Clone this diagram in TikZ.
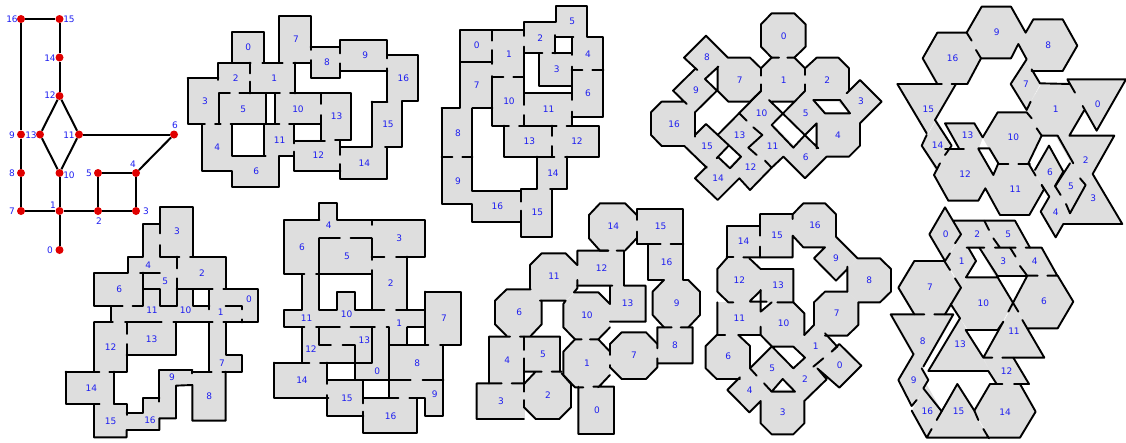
\documentclass[tikz,border=0pt]{standalone}
\usepackage{fontspec}
\setmainfont{DejaVu Sans}
\definecolor{roomgray}{RGB}{222,222,222}
\definecolor{nodered}{RGB}{224,0,0}
\definecolor{labelblue}{RGB}{30,30,240}
\begin{document}
\begin{tikzpicture}[
    x=1pt, y=-1pt,
    vertex/.style={circle, fill=nodered, inner sep=0pt, minimum size=8pt},
    link/.style={line width=2pt},
    lab/.style={inner sep=0pt, text=labelblue, font=\fontsize{9}{10}\selectfont},
    room/.style={fill=roomgray, draw=roomgray, line width=.4pt},
    wall/.style={line width=1.9pt, line cap=round, line join=round},
    plan/.style 2 args={shift={(#1,#2)}, x=.3333pt, y=-.3333pt}
]
\useasboundingbox (0,0) rectangle (1126,442);

% graph
\node[vertex] (n16) at (21,19) {};
\node[vertex] (n15) at (59.5,19) {};
\node[vertex] (n14) at (59.5,57.5) {};
\node[vertex] (n12) at (59.5,96) {};
\node[vertex] (n9) at (21,134.5) {};
\node[vertex] (n13) at (40,134.5) {};
\node[vertex] (n11) at (79,134.5) {};
\node[vertex] (n6) at (174,134.5) {};
\node[vertex] (n8) at (21,173) {};
\node[vertex] (n10) at (59.5,173) {};
\node[vertex] (n5) at (98,173) {};
\node[vertex] (n4) at (136,173) {};
\node[vertex] (n7) at (21,211) {};
\node[vertex] (n1) at (59.5,211) {};
\node[vertex] (n2) at (98,211) {};
\node[vertex] (n3) at (136,211) {};
\node[vertex] (n0) at (59.5,250) {};
\draw[link] (n16) -- (n15);
\draw[link] (n15) -- (n14);
\draw[link] (n14) -- (n12);
\draw[link] (n12) -- (n13);
\draw[link] (n12) -- (n11);
\draw[link] (n13) -- (n10);
\draw[link] (n11) -- (n10);
\draw[link] (n11) -- (n6);
\draw[link] (n6) -- (n4);
\draw[link] (n4) -- (n5);
\draw[link] (n4) -- (n3);
\draw[link] (n5) -- (n2);
\draw[link] (n10) -- (n1);
\draw[link] (n16) -- (n9);
\draw[link] (n9) -- (n8);
\draw[link] (n8) -- (n7);
\draw[link] (n7) -- (n1);
\draw[link] (n1) -- (n2);
\draw[link] (n2) -- (n3);
\draw[link] (n1) -- (n0);
\node[lab] (t16) at (12,19.5) {16};
\node[lab] (t15) at (69,19.5) {15};
\node[lab] (t14) at (50,58) {14};
\node[lab] (t12) at (50,95) {12};
\node[lab] (t9) at (12,135) {9};
\node[lab] (t13) at (31,135) {13};
\node[lab] (t11) at (69,135) {11};
\node[lab] (t6) at (175,125) {6};
\node[lab] (t8) at (12,173) {8};
\node[lab] (t10) at (69,175) {10};
\node[lab] (t5) at (89,173) {5};
\node[lab] (t4) at (133,164) {4};
\node[lab] (t7) at (12,211) {7};
\node[lab] (t1) at (53,205) {1};
\node[lab] (t2) at (99,221) {2};
\node[lab] (t3) at (146,211) {3};
\node[lab] (t0) at (50,250) {0};

% top row, rectangles
\begin{scope}[plan={185}{10}]
\fill[room] (142,65) rectangle (237,158) (193,158) rectangle (330,250) (283,18) rectangle (377,158)
  (377,112) rectangle (466,205) (466,90) rectangle (607,182) (607,135) rectangle (700,273)
  (560,275) rectangle (650,412) (466,412) rectangle (607,507) (327,390) rectangle (466,482)
  (237,342) rectangle (327,437) (142,437) rectangle (283,530) (50,342) rectangle (142,482)
  (8,205) rectangle (100,342) (100,158) rectangle (193,250) (100,250) rectangle (242,342)
  (270,250) rectangle (408,342) (408,250) rectangle (498,390) (600,273) rectangle (650,275);
\draw[wall] (142,158) -- (142,65) -- (237,65) -- (237,158);
\draw[wall] (100,210) -- (100,158) -- (197,158) (232,158) -- (293,158) (325,158) -- (377,158);
\draw[wall] (283,158) -- (283,18) -- (377,18) -- (377,120) (377,150) -- (377,205) -- (466,205) -- (466,160);
\draw[wall] (377,112) -- (466,112) -- (466,130) (466,112) -- (466,90) -- (607,90) -- (607,145);
\draw[wall] (466,182) -- (607,182) (607,175) -- (607,275) (560,275) -- (607,275);
\draw[wall] (607,135) -- (700,135) -- (700,273) -- (650,273) -- (650,412) -- (600,412);
\draw[wall] (560,275) -- (560,412) -- (466,412) (466,390) -- (466,435);
\draw[wall] (330,158) -- (330,250) (195,158) -- (195,190) (195,215) -- (195,250);
\draw[wall] (8,205) -- (100,205) (8,205) -- (8,342) -- (60,342) (90,342) -- (107,342) (137,342) -- (237,342);
\draw[wall] (103,342) -- (103,250) -- (135,250) (163,250) -- (285,250) (315,250) -- (498,250) -- (498,390) -- (450,390);
\draw[wall] (242,250) -- (242,342) (270,250) -- (270,342) (283,342) -- (237,342);
\draw[wall] (142,342) -- (142,437) -- (237,437) (237,342) -- (237,437) -- (242,437);
\draw[wall] (50,342) -- (50,482) -- (142,482) -- (142,530) -- (283,530) -- (283,437) -- (327,437);
\draw[wall] (327,342) -- (327,400) (327,425) -- (327,482) -- (466,482) (466,462) -- (466,507) -- (607,507) -- (607,412);
\draw[wall] (312,342) -- (408,342) (408,250) -- (408,282) (408,315) -- (408,390) (327,392) -- (420,392);
\node[lab] (pa0) at (190,113) {0};
\node[lab] (pa1) at (268,205) {1};
\node[lab] (pa2) at (152,205) {2};
\node[lab] (pa3) at (60,274) {3};
\node[lab] (pa4) at (97,413) {4};
\node[lab] (pa5) at (175,298) {5};
\node[lab] (pa6) at (214,483) {6};
\node[lab] (pa7) at (333,88) {7};
\node[lab] (pa8) at (426,158) {8};
\node[lab] (pa9) at (541,135) {9};
\node[lab] (pa10) at (339,298) {10};
\node[lab] (pa11) at (284,391) {11};
\node[lab] (pa12) at (400,437) {12};
\node[lab] (pa13) at (455,320) {13};
\node[lab] (pa14) at (538,461) {14};
\node[lab] (pa15) at (609,344) {15};
\node[lab] (pa16) at (655,205) {16};
\end{scope}

\begin{scope}[plan={435}{0}]
\fill[room] (76,90) rectangle (172,185) (172,90) rectangle (267,232) (267,65) rectangle (362,160)
  (362,18) rectangle (457,112) (410,112) rectangle (505,210) (313,160) rectangle (410,257)
  (410,210) rectangle (505,352) (267,280) rectangle (410,377) (172,232) rectangle (267,377)
  (76,185) rectangle (172,325) (20,325) rectangle (112,470) (20,470) rectangle (112,612)
  (112,572) rectangle (257,665) (257,568) rectangle (350,710) (305,470) rectangle (397,568)
  (350,377) rectangle (493,470) (208,377) rectangle (352,470);
\draw[wall] (76,185) -- (76,90) -- (265,90) (172,90) -- (172,122) (172,150) -- (172,192) (76,185) -- (172,185);
\draw[wall] (267,108) -- (267,65) -- (362,65) -- (362,18) -- (457,18) -- (457,112) -- (505,112) -- (505,352) -- (410,352);
\draw[wall] (267,140) -- (267,315) (267,345) -- (267,377) (267,160) -- (322,160);
\draw[wall] (362,112) -- (415,112) (360,105) -- (360,160) (352,160) -- (410,160) (410,112) -- (410,165);
\draw[wall] (410,200) -- (410,300) (410,335) -- (410,377) (410,210) -- (442,210) (472,210) -- (505,210);
\draw[wall] (313,160) -- (313,257) -- (410,257) (267,280) -- (410,280);
\draw[wall] (172,228) -- (172,377) (172,232) -- (205,232) (235,232) -- (267,232);
\draw[wall] (172,377) -- (222,377) (252,377) -- (365,377) (395,377) -- (493,377) -- (493,470) -- (390,470);
\draw[wall] (397,470) -- (397,568) -- (345,568) (350,568) -- (350,710) -- (257,710) -- (257,632);
\draw[wall] (257,605) -- (257,568) -- (305,568) -- (305,470) (208,377) -- (208,470) -- (358,470);
\draw[wall] (352,377) -- (352,408) (352,438) -- (352,470);
\draw[wall] (76,185) -- (76,325) -- (20,325) (112,325) -- (172,325) (112,325) -- (112,572) -- (257,572);
\draw[wall] (20,325) -- (20,612) -- (112,612) -- (112,665) -- (257,665);
\draw[wall] (20,470) -- (52,470) (82,470) -- (112,470);
\node[lab] (pb0) at (125,135) {0};
\node[lab] (pb1) at (222,162) {1};
\node[lab] (pb2) at (316,113) {2};
\node[lab] (pb3) at (365,208) {3};
\node[lab] (pb4) at (459,162) {4};
\node[lab] (pb5) at (412,65) {5};
\node[lab] (pb6) at (459,280) {6};
\node[lab] (pb7) at (125,256) {7};
\node[lab] (pb8) at (69,400) {8};
\node[lab] (pb9) at (69,543) {9};
\node[lab] (pb10) at (222,304) {10};
\node[lab] (pb11) at (341,327) {11};
\node[lab] (pb12) at (426,424) {12};
\node[lab] (pb13) at (283,424) {13};
\node[lab] (pb14) at (354,520) {14};
\node[lab] (pb15) at (307,638) {15};
\node[lab] (pb16) at (187,620) {16};
\end{scope}

% top row, octagons
\begin{scope}[plan={645}{5}]
\fill[room] (380,25) -- (448,25) -- (482,58) -- (482,125) -- (448,158) -- (380,158) -- (348,125) -- (348,58) -- cycle;
\fill[room] (380,158) -- (448,158) -- (480,190) -- (480,258) -- (448,290) -- (380,290) -- (348,258) -- (348,190) -- cycle;
\fill[room] (515,158) -- (580,158) -- (612,190) -- (612,258) -- (580,290) -- (515,290) -- (480,258) -- (480,190) -- cycle;
\fill[room] (250,158) -- (315,158) -- (348,190) -- (348,258) -- (315,290) -- (250,290) -- (218,258) -- (218,190) -- cycle;
\fill[room] (50,290) -- (118,290) -- (150,322) -- (150,390) -- (118,423) -- (50,423) -- (18,390) -- (18,322) -- cycle;
\fill[room] (545,322) -- (612,322) -- (645,355) -- (645,422) -- (612,455) -- (545,455) -- (512,422) -- (512,355) -- cycle;
\fill[room] (183,92) -- (249,158) -- (183,225) -- (117,158) -- cycle;
\fill[room] (150,192) -- (216,257) -- (150,322) -- (84,257) -- cycle;
\fill[room] (645,225) -- (710,290) -- (645,355) -- (580,290) -- cycle;
\fill[room] (350,258) -- (415,325) -- (350,390) -- (283,325) -- cycle;
\fill[room] (480,258) -- (545,325) -- (480,390) -- (415,325) -- cycle;
\fill[room] (283,325) -- (350,390) -- (283,455) -- (218,390) -- cycle;
\fill[room] (383,358) -- (448,423) -- (383,488) -- (316,423) -- cycle;
\fill[room] (183,357) -- (250,423) -- (183,488) -- (117,423) -- cycle;
\fill[room] (315,423) -- (380,488) -- (315,555) -- (250,488) -- cycle;
\fill[room] (218,455) -- (283,520) -- (218,585) -- (150,520) -- cycle;
\fill[room] (480,390) -- (545,455) -- (480,520) -- (415,455) -- cycle;
\draw[wall] (380,158) -- (348,125) -- (348,58) -- (380,25) -- (448,25) -- (482,58) -- (482,125) -- (448,158);
\draw[wall] (380,158) -- (402,158) (427,158) -- (448,158) -- (480,190) -- (480,210) (480,238) -- (480,258);
\draw[wall] (380,158) -- (348,190) -- (348,212) (348,238) -- (348,258);
\draw[wall] (480,190) -- (515,158) -- (580,158) -- (612,190) -- (612,258) -- (605,265) -- (645,225) -- (710,290) -- (645,355);
\draw[wall] (645,355) -- (645,422) -- (612,455) -- (545,455) -- (480,520) -- (415,455) -- (380,488) -- (315,555) -- (283,520) -- (218,585) -- (150,520) -- (185,485);
\draw[wall] (360,467) -- (380,488) (118,423) -- (185,488);
\draw[wall] (118,423) -- (50,423) -- (18,390) -- (18,322) -- (50,290) -- (118,290) -- (125,297) -- (84,257) -- (150,192) (157,195) -- (117,158) -- (183,92) -- (249,158) -- (315,158) -- (348,190);
\draw[wall] (220,185) -- (180,222) -- (216,257) -- (150,322) -- (150,395) (218,185) -- (218,258) -- (250,290) -- (315,290) -- (348,258);
\draw[wall] (348,258) -- (218,390) (150,390) -- (183,357) -- (288,455) -- (255,490) -- (218,455) (215,460) -- (250,423);
\draw[wall] (283,325) -- (305,347) (325,367) -- (352,390) -- (310,428) -- (335,450);
\draw[wall] (380,290) -- (448,290) (372,285) -- (520,430) (480,258) -- (380,360) -- (445,428) -- (480,390) -- (515,355) -- (515,430);
\draw[wall] (505,285) -- (585,285) -- (615,325) -- (540,325) -- (505,285);
\node[lab] (pc0) at (416,93) {0};
\node[lab] (pc1) at (416,225) {1};
\node[lab] (pc2) at (547,225) {2};
\node[lab] (pc3) at (648,290) {3};
\node[lab] (pc4) at (579,391) {4};
\node[lab] (pc5) at (482,325) {5};
\node[lab] (pc6) at (482,456) {6};
\node[lab] (pc7) at (284,225) {7};
\node[lab] (pc8) at (186,158) {8};
\node[lab] (pc9) at (153,257) {9};
\node[lab] (pc10) at (350,325) {10};
\node[lab] (pc11) at (383,423) {11};
\node[lab] (pc12) at (317,488) {12};
\node[lab] (pc13) at (284,390) {13};
\node[lab] (pc14) at (219,521) {14};
\node[lab] (pc15) at (186,423) {15};
\node[lab] (pc16) at (87,357) {16};
\end{scope}

% top row, hexagons and triangles
\begin{scope}[plan={890}{0}]
\fill[room] (275,20) -- (363,20) -- (407,98) -- (363,175) -- (275,175) -- (230,98) -- cycle;
\fill[room] (430,58) -- (518,58) -- (562,137) -- (518,213) -- (430,213) -- (385,137) -- cycle;
\fill[room] (142,98) -- (230,98) -- (273,175) -- (230,252) -- (142,252) -- (98,175) -- cycle;
\fill[room] (455,252) -- (540,252) -- (585,330) -- (540,407) -- (455,407) -- (408,330) -- cycle;
\fill[room] (323,337) -- (410,337) -- (455,407) -- (410,490) -- (323,490) -- (278,412) -- cycle;
\fill[room] (175,447) -- (265,447) -- (310,525) -- (265,602) -- (175,602) -- (132,525) -- cycle;
\fill[room] (330,490) -- (418,490) -- (462,568) -- (418,645) -- (330,645) -- (286,568) -- cycle;
\fill[room] (532,238) -- (708,238) -- (620,392) -- cycle;
\fill[room] (497,407) -- (673,407) -- (585,560) -- cycle;
\fill[room] (610,522) -- (697,672) -- (520,672) -- cycle;
\fill[room] (22,252) -- (198,252) -- (110,405) -- cycle;
\fill[room] (165,370) -- (253,370) -- (278,412) -- (265,447) -- (208,447) -- cycle;
\fill[room] (140,360) -- (185,437) -- (140,515) -- (95,437) -- cycle;
\fill[room] (407,178) -- (450,252) -- (408,330) -- (362,252) -- cycle;
\fill[room] (477,437) -- (522,515) -- (477,592) -- (435,515) -- cycle;
\fill[room] (543,480) -- (587,558) -- (543,636) -- (497,558) -- cycle;
\fill[room] (497,558) -- (540,636) -- (497,712) -- (452,636) -- cycle;
\draw[wall] (245,122) -- (230,98) -- (275,20) -- (363,20) -- (407,98) -- (430,58) -- (518,58) -- (562,137) -- (518,213) -- (425,213) (425,208) -- (450,250) -- (540,252);
\draw[wall] (555,278) -- (532,238) -- (708,238) -- (620,392) -- (578,318) (582,332) -- (538,407) -- (673,407) -- (608,522) -- (697,672) -- (520,672) -- (497,712) -- (452,635) -- (478,590) -- (455,555);
\draw[wall] (230,98) -- (142,98) -- (98,175) -- (142,252) -- (155,252) (185,252) -- (232,252) -- (273,175) -- (258,150);
\draw[wall] (273,175) -- (363,175) -- (385,132) -- (410,178) -- (362,252) -- (410,330) -- (422,305);
\draw[wall] (278,412) -- (323,337) -- (410,337) -- (425,355) (440,385) -- (455,407) -- (503,407) -- (550,490);
\draw[wall] (455,407) -- (415,490) -- (437,527) (435,510) -- (477,437) -- (520,515) -- (495,558) -- (512,585) (540,490) -- (495,560);
\draw[wall] (570,535) -- (587,555) -- (540,640) -- (528,612);
\draw[wall] (22,252) -- (155,252) (22,252) -- (110,400) (198,252) -- (135,360) -- (185,437) -- (165,465);
\draw[wall] (110,405) -- (95,437) -- (140,505) (150,490) -- (132,525) -- (175,602) -- (265,602) -- (286,565) -- (330,645) -- (418,645) -- (462,568) -- (455,555);
\draw[wall] (278,412) -- (253,370) -- (165,370) -- (208,447) (165,447) -- (222,447) (265,445) -- (298,445) -- (325,490) -- (310,525) -- (265,447);
\draw[wall] (328,492) -- (355,492) (385,492) -- (420,492);
\node[lab] (pd0) at (623,313) {0};
\node[lab] (pd1) at (497,328) {1};
\node[lab] (pd2) at (587,482) {2};
\node[lab] (pd3) at (610,595) {3};
\node[lab] (pd4) at (497,636) {4};
\node[lab] (pd5) at (543,558) {5};
\node[lab] (pd6) at (480,517) {6};
\node[lab] (pd7) at (408,252) {7};
\node[lab] (pd8) at (475,137) {8};
\node[lab] (pd9) at (320,97) {9};
\node[lab] (pd10) at (370,412) {10};
\node[lab] (pd11) at (376,568) {11};
\node[lab] (pd12) at (225,524) {12};
\node[lab] (pd13) at (233,407) {13};
\node[lab] (pd14) at (143,435) {14};
\node[lab] (pd15) at (115,328) {15};
\node[lab] (pd16) at (188,175) {16};
\end{scope}

% bottom row, rectangles
\begin{scope}[plan={60}{200}]
\fill[room] (300,20) rectangle (398,170) (250,72) rectangle (300,170) (203,170) rectangle (350,218)
  (350,170) rectangle (497,268) (250,218) rectangle (350,318) (102,218) rectangle (250,318)
  (497,268) rectangle (595,367) (448,268) rectangle (497,367) (350,268) rectangle (400,318)
  (350,318) rectangle (497,367) (152,318) rectangle (350,367) (102,367) rectangle (200,515)
  (200,367) rectangle (348,465) (448,367) rectangle (497,515) (497,465) rectangle (545,515)
  (397,515) rectangle (497,662) (298,512) rectangle (397,557) (298,555) rectangle (348,655)
  (250,595) rectangle (298,690) (200,640) rectangle (250,690) (102,612) rectangle (200,712)
  (17,515) rectangle (162,612);
\draw[wall] (300,100) -- (300,20) -- (398,20) -- (398,170) -- (390,170) -- (497,170) -- (497,265);
\draw[wall] (300,135) -- (300,170) -- (358,170) (350,170) -- (350,205) (350,235) -- (350,318);
\draw[wall] (300,72) -- (250,72) -- (250,170) -- (203,170) -- (203,218) -- (102,218) -- (102,318) -- (188,318) (240,218) -- (300,218) (248,218) -- (248,318) -- (218,318);
\draw[wall] (152,318) -- (152,367) -- (158,367) (195,367) -- (305,367) (340,367) -- (458,367);
\draw[wall] (250,268) -- (300,268) -- (300,318) -- (350,318) (350,268) -- (458,268) (400,268) -- (400,318) -- (448,318) (448,268) -- (448,328);
\draw[wall] (490,268) -- (595,268) -- (595,367) -- (490,367) (497,318) -- (545,318) -- (545,328) (545,358) -- (545,367);
\draw[wall] (497,367) -- (497,465) -- (545,465) -- (545,515) -- (487,515) (448,367) -- (448,515) (397,515) -- (455,515);
\draw[wall] (497,515) -- (497,662) -- (397,662) -- (397,555) -- (348,557) -- (348,655) -- (298,655) -- (298,690) -- (200,690) -- (200,712) -- (102,712) -- (102,612) -- (118,612);
\draw[wall] (397,510) -- (397,520) (298,605) -- (298,510) -- (397,510) (298,595) -- (250,595) -- (250,640) -- (200,640) (200,612) -- (200,645) (162,612) -- (200,612);
\draw[wall] (102,367) -- (158,367) (102,367) -- (102,515) (17,515) -- (118,515) (148,515) -- (200,515) -- (200,432) (200,402) -- (200,367) (200,465) -- (348,465) -- (348,367);
\draw[wall] (162,515) -- (162,612) (17,515) -- (17,612) -- (118,612);
\node[lab] (pe0) at (567,298) {0};
\node[lab] (pe1) at (482,338) {1};
\node[lab] (pe2) at (426,219) {2};
\node[lab] (pe3) at (351,95) {3};
\node[lab] (pe4) at (265,195) {4};
\node[lab] (pe5) at (316,245) {5};
\node[lab] (pe6) at (178,268) {6};
\node[lab] (pe7) at (486,491) {7};
\node[lab] (pe8) at (448,590) {8};
\node[lab] (pe9) at (336,533) {9};
\node[lab] (pe10) at (377,331) {10};
\node[lab] (pe11) at (276,331) {11};
\node[lab] (pe12) at (152,442) {12};
\node[lab] (pe13) at (275,418) {13};
\node[lab] (pe14) at (94,566) {14};
\node[lab] (pe15) at (152,664) {15};
\node[lab] (pe16) at (270,662) {16};
\end{scope}

\begin{scope}[plan={270}{195}]
\fill[room] (148,25) rectangle (200,75) (42,75) rectangle (148,237) (148,75) rectangle (305,237)
  (305,75) rectangle (465,185) (305,185) rectangle (412,345) (95,237) rectangle (148,345)
  (42,345) rectangle (465,397) (200,290) rectangle (255,345) (465,290) rectangle (572,450)
  (358,397) rectangle (412,450) (95,397) rectangle (255,503) (148,397) rectangle (305,503)
  (305,397) rectangle (358,555) (255,503) rectangle (358,555) (358,450) rectangle (520,555)
  (465,555) rectangle (520,662) (358,555) rectangle (465,610) (280,610) rectangle (440,715)
  (172,555) rectangle (280,662) (13,503) rectangle (172,610);
\draw[wall] (148,75) -- (148,25) -- (200,25) -- (200,75) -- (465,75) -- (465,185) -- (378,185) (42,75) -- (148,75);
\draw[wall] (42,75) -- (42,237) -- (103,237) (138,237) -- (305,237) (95,237) -- (95,345) -- (42,345) -- (42,397) -- (103,397);
\draw[wall] (148,130) -- (148,345) -- (200,345) -- (200,290) -- (255,290) -- (255,345) -- (343,345) (378,345) -- (465,345);
\draw[wall] (148,130) -- (210,130) (242,130) -- (305,130) (305,75) -- (305,90) (305,130) -- (305,195) (305,185) -- (343,185) (305,225) -- (305,345) (412,185) -- (412,345);
\draw[wall] (465,290) -- (465,450) (465,290) -- (572,290) -- (572,450) -- (510,450) (520,450) -- (520,662) -- (465,662) -- (465,610) -- (418,610);
\draw[wall] (412,397) -- (465,397) (412,397) -- (412,450) (358,450) -- (475,450) (350,397) -- (358,397) -- (358,605);
\draw[wall] (305,397) -- (305,503) -- (150,503) (138,397) -- (210,397) (242,397) -- (315,397) (148,397) -- (148,450) -- (183,450) (218,450) -- (255,450) -- (255,555);
\draw[wall] (95,397) -- (95,503) (13,503) -- (118,503) (172,503) -- (172,567) (172,555) -- (422,555) (280,555) -- (280,625) (280,610) -- (385,610) (458,555) -- (520,555);
\draw[wall] (13,503) -- (13,610) -- (175,610) (172,600) -- (172,662) -- (280,662) (280,650) -- (280,715) -- (440,715) -- (440,610);
\node[lab] (pf0) at (322,530) {0};
\node[lab] (pf1) at (388,386) {1};
\node[lab] (pf2) at (362,264) {2};
\node[lab] (pf3) at (388,129) {3};
\node[lab] (pf4) at (176,92) {4};
\node[lab] (pf5) at (231,184) {5};
\node[lab] (pf6) at (96,157) {6};
\node[lab] (pf7) at (522,369) {7};
\node[lab] (pf8) at (442,505) {8};
\node[lab] (pf9) at (494,597) {9};
\node[lab] (pf10) at (230,357) {10};
\node[lab] (pf11) at (110,370) {11};
\node[lab] (pf12) at (123,464) {12};
\node[lab] (pf13) at (283,436) {13};
\node[lab] (pf14) at (96,557) {14};
\node[lab] (pf15) at (231,610) {15};
\node[lab] (pf16) at (362,664) {16};
\end{scope}

% bottom row, octagons and rectangles
\begin{scope}[plan={470}{195}]
\fill[room] (390,25) -- (465,25) -- (500,60) -- (500,130) -- (465,167) -- (390,167) -- (357,130) -- (357,60) -- cycle;
\fill[room] (215,175) -- (287,175) -- (322,210) -- (322,280) -- (287,317) -- (215,317) -- (180,280) -- (180,210) -- cycle;
\fill[room] (110,283) -- (182,283) -- (215,317) -- (215,388) -- (182,423) -- (110,423) -- (75,388) -- (75,317) -- cycle;
\fill[room] (315,292) -- (385,292) -- (420,327) -- (420,397) -- (385,433) -- (315,433) -- (280,397) -- (280,327) -- cycle;
\fill[room] (315,433) -- (385,433) -- (420,470) -- (420,540) -- (385,577) -- (315,577) -- (280,540) -- (280,470) -- cycle;
\fill[room] (455,412) -- (528,412) -- (562,447) -- (562,517) -- (528,552) -- (455,552) -- (420,517) -- (420,447) -- cycle;
\fill[room] (197,530) -- (268,530) -- (303,567) -- (303,637) -- (268,672) -- (197,672) -- (162,637) -- (162,567) -- cycle;
\fill[room] (582,255) -- (655,255) -- (690,290) -- (690,360) -- (655,397) -- (582,397) -- (548,360) -- (548,290) -- cycle;
\fill[room] (500,43) rectangle (640,147) (535,147) rectangle (640,255) (322,167) rectangle (462,272)
  (420,272) rectangle (527,380) (562,397) rectangle (668,505) (57,425) rectangle (162,565)
  (162,425) rectangle (270,530) (20,565) rectangle (162,672) (325,575) rectangle (432,717);
\draw[wall] (415,167) -- (390,167) -- (357,130) -- (357,60) -- (390,25) -- (465,25) -- (500,60) (465,167) -- (500,130);
\draw[wall] (500,75) -- (500,43) -- (640,43) -- (640,255) -- (655,255) (500,110) -- (500,147) -- (572,147) (602,147) -- (640,147) (535,147) -- (535,255) -- (582,255);
\draw[wall] (655,255) -- (690,290) -- (690,360) -- (655,397) (582,255) -- (548,290) -- (548,360) -- (582,397);
\draw[wall] (562,460) -- (562,397) -- (605,397) (632,397) -- (668,397) -- (668,505) -- (562,505) (562,490) -- (562,517) -- (528,552) -- (455,552) -- (420,517) -- (420,510);
\draw[wall] (420,480) -- (420,447) -- (455,412) -- (528,412) -- (562,447) (385,433) -- (420,470) (385,433) -- (420,397);
\draw[wall] (420,380) -- (527,380) -- (527,272) -- (462,272) -- (462,167) -- (440,167) (415,167) -- (322,167) -- (322,210) (322,255) -- (322,280) -- (312,292);
\draw[wall] (322,272) -- (427,272) (420,272) -- (420,327) -- (385,292) -- (312,292) (210,317) -- (287,317) -- (280,327) -- (280,397) -- (315,433) -- (335,433) (360,433) -- (385,433);
\draw[wall] (315,433) -- (280,470) -- (280,540) -- (315,577) -- (340,577) (370,575) -- (432,575) -- (432,717) -- (325,717) -- (325,575) (385,577) -- (420,540);
\draw[wall] (275,535) -- (303,567) -- (303,637) -- (268,672) -- (197,672) -- (162,637) -- (162,615) (162,672) -- (20,672) -- (20,565) -- (95,565) (125,565) -- (162,565) (162,590) -- (162,490) (162,465) -- (162,425) -- (270,425) -- (270,530);
\draw[wall] (162,530) -- (215,530) (245,530) -- (275,530) (197,530) -- (162,567) (57,565) -- (57,425) -- (120,425) (150,425) -- (162,425);
\draw[wall] (110,423) -- (75,388) -- (75,317) -- (110,283) -- (182,283) (182,423) -- (215,388) -- (215,317) (180,283) -- (180,210) -- (215,175) -- (287,175) -- (322,210);
\node[lab] (pg0) at (381,646) {0};
\node[lab] (pg1) at (351,505) {1};
\node[lab] (pg2) at (234,600) {2};
\node[lab] (pg3) at (93,620) {3};
\node[lab] (pg4) at (112,495) {4};
\node[lab] (pg5) at (219,477) {5};
\node[lab] (pg6) at (148,352) {6};
\node[lab] (pg7) at (492,482) {7};
\node[lab] (pg8) at (615,450) {8};
\node[lab] (pg9) at (620,325) {9};
\node[lab] (pg10) at (351,362) {10};
\node[lab] (pg11) at (252,245) {11};
\node[lab] (pg12) at (395,218) {12};
\node[lab] (pg13) at (473,325) {13};
\node[lab] (pg14) at (430,95) {14};
\node[lab] (pg15) at (572,95) {15};
\node[lab] (pg16) at (590,202) {16};
\end{scope}

\begin{scope}[plan={700}{195}]
\fill[room] (310,25) -- (375,25) -- (408,58) -- (408,125) -- (375,157) -- (310,157) -- (278,125) -- (278,58) -- cycle;
\fill[room] (475,190) -- (540,190) -- (573,222) -- (573,290) -- (540,322) -- (475,322) -- (442,290) -- (442,222) -- cycle;
\fill[room] (85,190) -- (148,190) -- (182,222) -- (182,290) -- (148,322) -- (85,322) -- (52,290) -- (52,222) -- cycle;
\fill[room] (375,290) -- (442,290) -- (475,322) -- (475,390) -- (442,422) -- (375,422) -- (342,390) -- (342,322) -- cycle;
\fill[room] (215,322) -- (280,322) -- (313,355) -- (313,420) -- (280,453) -- (215,453) -- (182,420) -- (182,355) -- cycle;
\fill[room] (50,420) -- (115,420) -- (150,453) -- (150,520) -- (115,552) -- (50,552) -- (17,520) -- (17,453) -- cycle;
\fill[room] (215,585) -- (280,585) -- (313,618) -- (313,685) -- (280,718) -- (215,718) -- (182,685) -- (182,618) -- cycle;
\fill[room] (180,57) rectangle (278,187) (80,92) rectangle (180,187) (182,222) rectangle (280,322) (52,322) rectangle (182,420);
\fill[room] (408,125) -- (473,190) -- (408,257) -- (342,190) -- cycle;
\fill[room] (418,447) -- (484,512) -- (418,578) -- (352,512) -- cycle;
\fill[room] (347,390) -- (412,455) -- (347,520) -- (280,455) -- cycle;
\fill[room] (215,455) -- (280,520) -- (215,585) -- (150,520) -- cycle;
\fill[room] (315,488) -- (380,553) -- (315,618) -- (248,553) -- cycle;
\fill[room] (148,520) -- (215,585) -- (148,652) -- (82,585) -- cycle;
\draw[wall] (278,72) -- (278,58) -- (310,25) -- (375,25) -- (408,58) -- (408,125) -- (473,190) -- (540,190) -- (573,222) -- (573,290) -- (540,322) -- (475,322) -- (475,390) -- (442,422) -- (375,422);
\draw[wall] (442,290) -- (375,290) -- (342,322) -- (342,390);
\draw[wall] (442,215) -- (442,290) (408,257) -- (442,222) (342,190) -- (408,257) (342,190) -- (375,157) -- (310,157) -- (278,122) -- (278,187) -- (130,187);
\draw[wall] (180,57) -- (278,57) (180,57) -- (180,122) (180,155) -- (180,187) (80,187) -- (100,187) (180,92) -- (80,92) -- (80,190);
\draw[wall] (80,190) -- (52,222) -- (52,290) -- (85,322) -- (100,322) (150,320) -- (200,320) (150,318) -- (182,287) (232,322) -- (280,322) -- (313,355) -- (313,420);
\draw[wall] (148,190) -- (182,222) -- (280,222) -- (280,322) (182,285) -- (182,350) -- (215,322) (182,395) -- (182,420) (52,322) -- (52,420) -- (75,420) (115,420) -- (182,420);
\draw[wall] (75,420) -- (50,420) -- (17,453) -- (17,520) -- (50,552) -- (120,552) (115,420) -- (150,453) -- (150,520) -- (215,455) -- (280,455) -- (315,488) -- (280,520) -- (182,420);
\draw[wall] (313,420) -- (342,390) (375,415) -- (412,455) -- (395,470) -- (418,447) -- (484,512) -- (418,578) -- (352,520) -- (380,553) -- (313,618) -- (313,685) -- (280,718) -- (215,718) -- (182,685) -- (182,618) -- (148,652) -- (82,585) -- (120,547);
\draw[wall] (340,515) -- (370,490) (150,520) -- (170,542) (192,565) -- (215,590) -- (285,590) -- (248,552) -- (215,590);
\node[lab] (ph0) at (419,511) {0};
\node[lab] (ph1) at (347,455) {1};
\node[lab] (ph2) at (315,553) {2};
\node[lab] (ph3) at (248,652) {3};
\node[lab] (ph4) at (149,585) {4};
\node[lab] (ph5) at (217,520) {5};
\node[lab] (ph6) at (85,485) {6};
\node[lab] (ph7) at (410,355) {7};
\node[lab] (ph8) at (508,255) {8};
\node[lab] (ph9) at (408,190) {9};
\node[lab] (ph10) at (251,385) {10};
\node[lab] (ph11) at (118,370) {11};
\node[lab] (ph12) at (118,255) {12};
\node[lab] (ph13) at (234,271) {13};
\node[lab] (ph14) at (131,140) {14};
\node[lab] (ph15) at (231,122) {15};
\node[lab] (ph16) at (345,90) {16};
\end{scope}

\begin{scope}[plan={885}{200}]
\fill[room] (88,183) -- (178,183) -- (225,263) -- (180,343) -- (88,343) -- (40,263) -- cycle;
\fill[room] (250,232) -- (338,232) -- (383,310) -- (338,390) -- (250,390) -- (197,312) -- cycle;
\fill[room] (427,227) -- (518,227) -- (565,305) -- (518,385) -- (427,385) -- (383,305) -- cycle;
\fill[room] (315,552) -- (405,552) -- (452,635) -- (405,713) -- (315,713) -- (268,635) -- cycle;
\fill[room] (17,343) -- (205,343) -- (110,505) -- cycle;
\fill[room] (225,355) -- (315,513) -- (130,513) -- cycle;
\fill[room] (385,315) -- (478,473) -- (295,473) -- cycle;
\fill[room] (217,552) -- (310,713) -- (125,713) -- cycle;
\fill[room] (295,473) -- (385,473) -- (432,552) -- (335,552) -- cycle;
\fill[room] (180,22) -- (228,103) -- (180,180) -- (133,103) -- cycle;
\fill[room] (205,62) -- (298,62) -- (345,143) -- (250,143) -- (228,103) -- cycle;
\fill[room] (298,62) -- (390,62) -- (435,143) -- (345,143) -- cycle;
\fill[room] (230,105) -- (273,183) -- (230,262) -- (182,183) -- cycle;
\fill[room] (283,143) -- (390,143) -- (427,227) -- (330,227) -- cycle;
\fill[room] (390,143) -- (470,143) -- (517,227) -- (427,227) -- cycle;
\fill[room] (86,462) -- (132,540) -- (86,618) -- (40,540) -- cycle;
\fill[room] (125,555) -- (170,634) -- (125,713) -- (80,634) -- cycle;
\draw[wall] (195,160) -- (180,183) -- (133,103) -- (180,22) -- (228,103) -- (210,130) (205,62) -- (390,62) -- (435,143);
\draw[wall] (298,62) -- (312,90) (325,115) -- (345,143) (245,143) -- (298,143) (330,143) -- (392,143) (422,143) -- (470,143) -- (517,227) -- (487,227) (427,227) -- (458,227) (335,228) -- (427,228);
\draw[wall] (375,143) -- (392,170) (405,198) -- (425,225) (283,143) -- (340,232) (250,143) -- (273,183) -- (243,232) -- (338,232) -- (400,335) (427,227) -- (370,335);
\draw[wall] (518,227) -- (565,305) -- (518,385) -- (428,385) (412,360) -- (478,473) -- (352,473) (322,473) -- (295,473) -- (355,365) -- (338,390) -- (242,390) -- (295,473);
\draw[wall] (130,513) -- (310,513) -- (335,552) (130,513) -- (225,355) -- (197,312) (205,343) -- (115,500) (17,343) -- (118,343) (148,343) -- (205,343) (17,343) -- (85,462);
\draw[wall] (180,343) -- (228,263) -- (210,235) (195,210) -- (178,183) -- (88,183) -- (40,263) -- (88,343);
\draw[wall] (110,505) -- (130,540) -- (115,565) -- (170,634) -- (217,552) -- (268,632) -- (315,552) -- (352,552) (387,552) -- (432,552) -- (385,473);
\draw[wall] (86,462) -- (40,540) -- (80,618) -- (95,600) (80,632) -- (125,713) -- (405,713) -- (452,635) -- (405,552) (170,634) -- (155,660) (268,632) -- (280,660) (295,687) -- (312,715) (140,687) -- (125,713);
\node[lab] (pi0) at (182,103) {0};
\node[lab] (pi1) at (230,183) {1};
\node[lab] (pi2) at (277,103) {2};
\node[lab] (pi3) at (355,185) {3};
\node[lab] (pi4) at (449,185) {4};
\node[lab] (pi5) at (370,103) {5};
\node[lab] (pi6) at (477,305) {6};
\node[lab] (pi7) at (135,263) {7};
\node[lab] (pi8) at (113,425) {8};
\node[lab] (pi9) at (86,540) {9};
\node[lab] (pi10) at (295,311) {10};
\node[lab] (pi11) at (387,393) {11};
\node[lab] (pi12) at (365,513) {12};
\node[lab] (pi13) at (225,433) {13};
\node[lab] (pi14) at (360,636) {14};
\node[lab] (pi15) at (221,634) {15};
\node[lab] (pi16) at (127,634) {16};
\end{scope}
\end{tikzpicture}
\end{document}
